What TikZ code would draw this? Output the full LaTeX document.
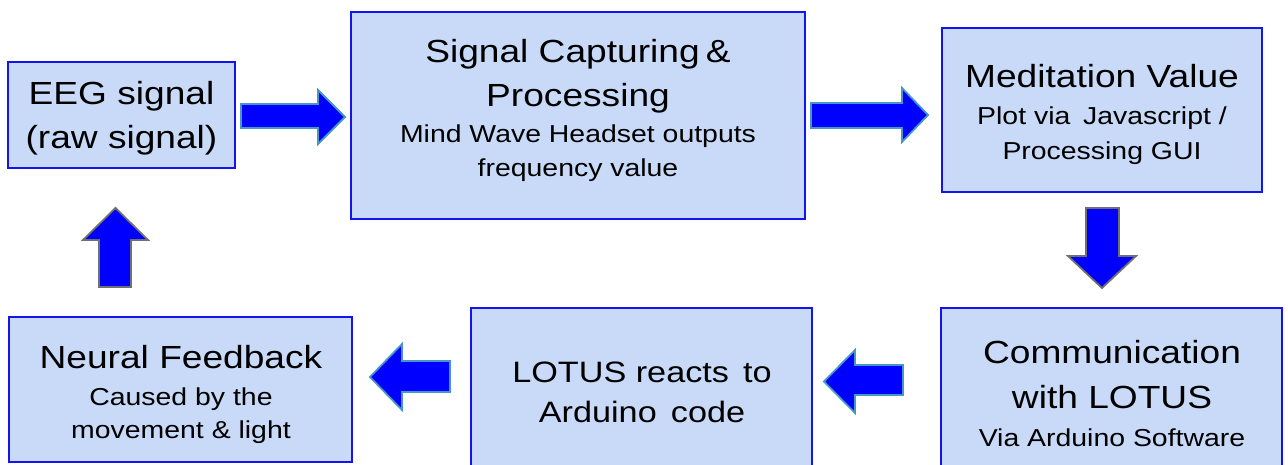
\documentclass[tikz,border=0pt]{standalone}
\usepackage{fontspec}
\setmainfont{Liberation Sans}
\definecolor{boxfill}{RGB}{200,218,247}
\definecolor{boxline}{RGB}{20,20,240}
\definecolor{arrowfill}{RGB}{0,0,255}
\definecolor{hedge}{RGB}{70,150,200}
\definecolor{vedge}{RGB}{112,112,112}
% widen glyphs horizontally, as set in the slide
\newcommand{\hx}[1]{\scalebox{1.16}[1]{#1}}
\tikzset{
  stage/.style={draw=boxline, line width=1.8pt, fill=boxfill, inner sep=0pt},
  titletxt/.style={font=\fontsize{32}{38}\selectfont, inner sep=0pt, anchor=base},
  subtxt/.style={font=\fontsize{24.5}{29}\selectfont, inner sep=0pt, anchor=base},
  harrow/.style={fill=arrowfill, draw=hedge, line width=1.8pt, line join=miter},
  varrow/.style={fill=arrowfill, draw=vedge, line width=1.8pt, line join=miter},
}
\begin{document}
\begin{tikzpicture}[x=1pt,y=-1pt]
\useasboundingbox (0,0) rectangle (1288,465);

% stage boxes
\node[stage, minimum width=227pt, minimum height=106pt] (eeg) at (121.5,115) {};
\node[stage, minimum width=454pt, minimum height=207pt] (sig) at (578,115.5) {};
\node[stage, minimum width=320pt, minimum height=164pt] (med) at (1102,110) {};
\node[stage, minimum width=341pt, minimum height=162pt] (com) at (1111.5,389) {};
\node[stage, minimum width=341pt, minimum height=162pt] (lot) at (641.5,389) {};
\node[stage, minimum width=343pt, minimum height=145pt] (neu) at (180.5,389.5) {};

% texts
\node[titletxt] (eegA) at (121.5,105) {\hx{EEG signal}};
\node[titletxt] (eegB) at (121.5,149) {\hx{(raw signal)}};

\node[titletxt] (sigA) at (578,63) {\hx{Signal Capturing\,\&}};
\node[titletxt] (sigB) at (578,107) {\hx{Processing}};
\node[subtxt] (sigC) at (578,143) {\hx{Mind Wave Headset outputs}};
\node[subtxt] (sigD) at (578,177) {\hx{frequency value}};

\node[titletxt] (medA) at (1102,88) {\hx{Meditation Value}};
\node[subtxt] (medB) at (1102,125) {\hx{Plot via\ \,Javascript /}};
\node[subtxt] (medC) at (1102,160) {\hx{Processing GUI}};

\node[titletxt] (comA) at (1112,363) {\hx{Communication}};
\node[titletxt] (comB) at (1112,408) {\hx{with LOTUS}};
\node[subtxt] (comC) at (1112,446) {\hx{Via Arduino Software}};

\node[titletxt, font=\fontsize{29.5}{35}\selectfont] (lotA) at (642,382) {\hx{LOTUS reacts\hspace{4pt} to}};
\node[titletxt, font=\fontsize{29.5}{35}\selectfont] (lotB) at (642,422) {\hx{Arduino\hspace{4pt} code}};

\node[titletxt] (neuA) at (181,368) {\hx{Neural Feedback}};
\node[subtxt] (neuB) at (181,405) {\hx{Caused by the}};
\node[subtxt] (neuC) at (181,438) {\hx{movement \& light}};

% block arrows between stages
\draw[harrow] (241,104) -- (318,104) -- (318,90) -- (345,117) -- (318,144) -- (318,128) -- (241,128) -- cycle;
\draw[harrow] (811,103) -- (902,103) -- (902,88) -- (928,115) -- (902,142) -- (902,128) -- (811,128) -- cycle;
\draw[varrow] (1086,208) -- (1119,208) -- (1119,256) -- (1136,256) -- (1102,288) -- (1068,256) -- (1086,256) -- cycle;
\draw[harrow] (903,365) -- (855,365) -- (855,350) -- (824,381.5) -- (855,413) -- (855,395) -- (903,395) -- cycle;
\draw[harrow] (450,361) -- (402,361) -- (402,344) -- (370,377) -- (402,410) -- (402,392) -- (450,392) -- cycle;
\draw[varrow] (99,287) -- (99,240) -- (83,240) -- (115.5,208) -- (148,240) -- (131,240) -- (131,287) -- cycle;
\end{tikzpicture}
\end{document}
